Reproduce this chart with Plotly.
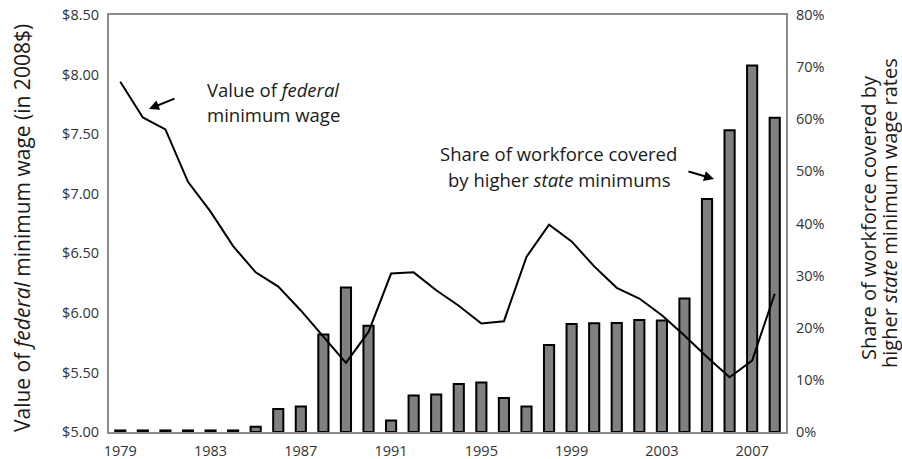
import plotly.graph_objects as go

years = list(range(1979, 2009))
federal_wage = [7.94, 7.64, 7.54, 7.10, 6.85, 6.56, 6.34, 6.22, 6.02, 5.80,
                5.58, 5.84, 6.33, 6.34, 6.19, 6.06, 5.91, 5.93, 6.47, 6.74,
                6.60, 6.39, 6.21, 6.12, 5.98, 5.81, 5.63, 5.46, 5.60, 6.16]
state_share = [0.3, 0.3, 0.3, 0.3, 0.3, 0.3, 1.0, 4.4, 4.9, 18.7,
               27.7, 20.4, 2.2, 7.0, 7.2, 9.2, 9.5, 6.5, 4.9, 16.7,
               20.7, 20.85, 20.9, 21.5, 21.4, 25.6, 44.7, 57.9, 70.3, 60.3]
xtick_vals = [1979, 1983, 1987, 1991, 1995, 1999, 2003, 2007]
wage_ticks = [5.0, 5.5, 6.0, 6.5, 7.0, 7.5, 8.0, 8.5]
share_ticks = [0, 10, 20, 30, 40, 50, 60, 70, 80]

FONT = "Open Sans"
AXIS_GRAY = "#8c8c8c"
TICK_COLOR = "#333333"
TEXT_COLOR = "#1a1a1a"

fig = go.Figure()
fig.add_trace(go.Bar(
    x=years, y=state_share, width=0.45,
    marker=dict(color="#808080", line=dict(color="#000000", width=2)),
    yaxis="y", showlegend=False, hoverinfo="skip"))
fig.add_trace(go.Scatter(
    x=years, y=federal_wage, mode="lines",
    line=dict(color="#000000", width=2),
    yaxis="y2", showlegend=False, hoverinfo="skip"))

L, R, T, B = 109, 116, 15, 27
W, H = 902, 459
pw, ph = W - L - R, H - T - B

def px(x):
    return (x - L) / pw

def py(y):
    return (H - B - y) / ph

tick_common = dict(ticks="outside", ticklen=5, tickcolor="rgba(0,0,0,0)",
                   showgrid=False, zeroline=False, showline=True,
                   automargin=False,
                   linecolor=AXIS_GRAY, linewidth=2,
                   tickfont=dict(size=14.5, color=TICK_COLOR))

fig.update_layout(
    template="none",
    width=W, height=H,
    margin=dict(l=L, r=R, t=T, b=B, pad=0, autoexpand=False),
    paper_bgcolor="white", plot_bgcolor="white",
    font=dict(family=FONT, color=TICK_COLOR, size=14),
    xaxis=dict(range=[1978.5, 2008.5], tickvals=xtick_vals, mirror=True,
               **tick_common),
    yaxis=dict(range=[0, 80], tickvals=share_ticks,
               ticktext=[f"{v}%" for v in share_ticks],
               side="right", **tick_common),
    yaxis2=dict(range=[5, 8.5], tickvals=wage_ticks,
                ticktext=[f"${v:.2f}" for v in wage_ticks],
                side="left", overlaying="y", **tick_common),
    bargap=0.55,
)

def label(text, x, y, size=18.5, anchor="center", angle=0):
    return dict(text=text, x=px(x), y=py(y), xref="paper", yref="paper",
                textangle=angle, showarrow=False, xanchor=anchor,
                yanchor="middle", font=dict(size=size, color=TEXT_COLOR))

annotations = [
    label("Value of <i>federal</i> minimum wage (in 2008$)", 22, 228,
          size=21, angle=-90),
    label("Share of workforce covered by", 868, 218, size=20, angle=-90),
    label("higher <i>state</i> minimum wage rates", 889, 213, size=20, angle=-90),
    label("Value of <i>federal</i>", 205, 89, anchor="left"),
    label("minimum wage", 205, 115, anchor="left"),
    label("Share of workforce covered", 558, 153),
    label("by higher <i>state</i> minimums", 559, 179),
    dict(text="", x=px(149), y=py(109), xref="paper", yref="paper",
         showarrow=True, ax=27, ay=-11, arrowhead=2, arrowsize=1,
         arrowwidth=2, arrowcolor="#000000", standoff=0),
    dict(text="", x=px(714), y=py(179), xref="paper", yref="paper",
         showarrow=True, ax=-27, ay=-8, arrowhead=2, arrowsize=1,
         arrowwidth=2, arrowcolor="#000000", standoff=0),
]
fig.update_layout(annotations=annotations)

fig.write_html("out.html",
               config={"displayModeBar": False},
               post_script="document.body.style.margin='0';"
                           "document.body.style.overflow='hidden';")
